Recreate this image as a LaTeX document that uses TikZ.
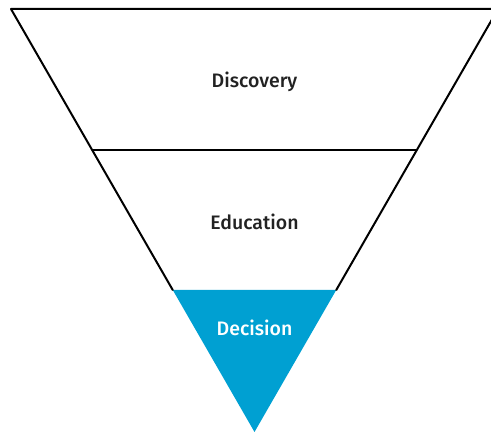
\documentclass[tikz,border=0pt]{standalone}
\usepackage{fontspec}
\setmainfont{Fira Sans}[UprightFont=* Medium]
\usetikzlibrary{calc}
\definecolor{funnelblue}{RGB}{0,160,210}
\definecolor{labelgray}{RGB}{34,34,34}
\begin{document}
\begin{tikzpicture}[x=1pt,y=1pt,
  edge/.style={draw=black,line width=2pt,line cap=round,line join=round},
  stage/.style={font=\fontsize{19.5}{23}\selectfont,text=labelgray,anchor=base},
  stagelight/.style={stage,text=white}]
  \useasboundingbox (0,0) rectangle (491,434);
  \clip (0,0) rectangle (491,434);
  % funnel corners
  \coordinate (apex) at (254.5,2);
  \coordinate (tl) at (11,425);
  \coordinate (tr) at (498,425);
  % level boundaries
  \coordinate (ml) at ($(apex)!0.6655!(tl)$);
  \coordinate (mr) at ($(apex)!0.6655!(tr)$);
  \coordinate (bl) at ($(apex)!0.3357!(tl)$);
  \coordinate (br) at ($(apex)!0.3357!(tr)$);
  % bottom stage
  \fill[funnelblue] (bl) -- (br) -- (apex) -- cycle;
  % outline
  \draw[edge] (bl) -- (tl) -- (tr) -- (br);
  \draw[edge] (ml) -- (mr);
  % labels
  \node[stage] (discovery) at (254.5,346.5) {Discovery};
  \node[stage] (education) at (254.5,204.5) {Education};
  \node[stagelight] (decision) at (254.5,98.5) {Decision};
\end{tikzpicture}
\end{document}
